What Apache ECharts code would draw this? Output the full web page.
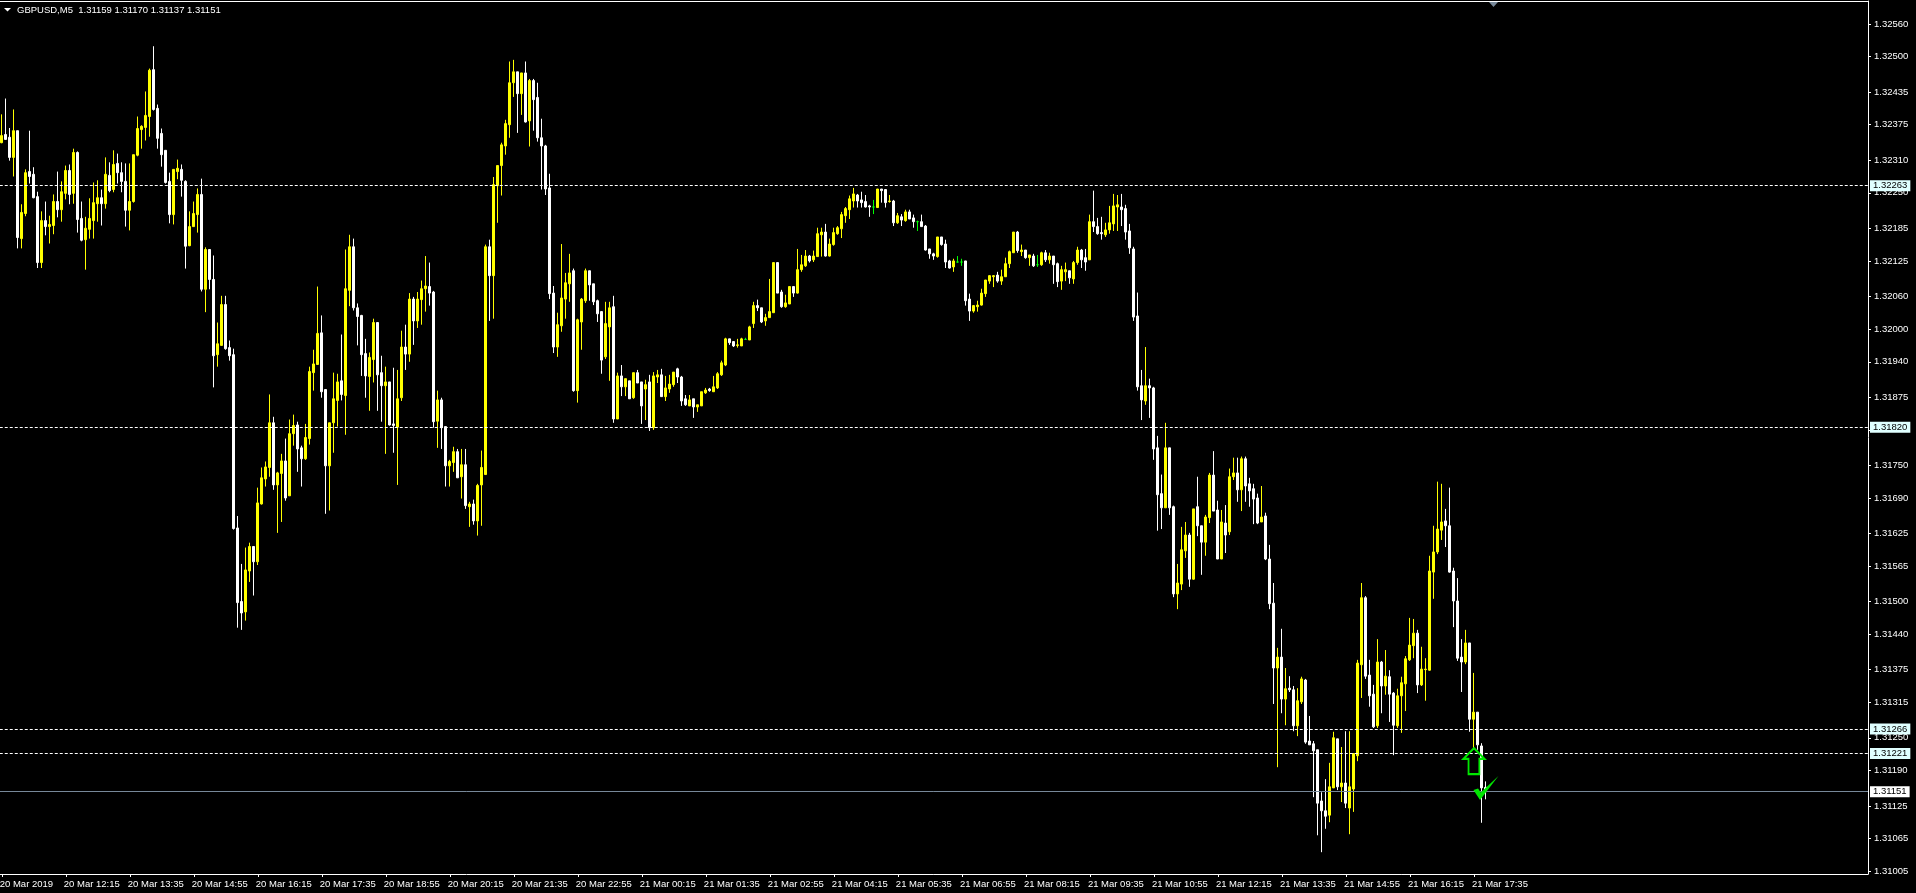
<!DOCTYPE html>
<html><head><meta charset="utf-8">
<style>html,body{margin:0;padding:0;background:#000;width:1916px;height:893px;overflow:hidden}#c{width:1916px;height:893px}</style>
<script src="https://cdn.jsdelivr.net/npm/echarts@6/dist/echarts.min.js"></script>
</head><body><div id="c"></div>
<script>
// Prices are stored as points (0.00001) above 1.31000
const BASE = 1.31;
const open = [
1342,1357,1352,1315,1364,1166,1212,1289,1284,1243,
1122,1199,1188,1190,1234,1219,1249,1291,1249,1324,
1203,1164,1183,1199,1230,1241,1230,1282,1256,1304,
1287,1271,1218,1234,1319,1366,1370,1390,1476,1405,
1359,1328,1271,1210,1289,1293,1271,1153,1188,1210,
1247,1073,1146,1091,953,970,1045,966,953,635,
500,481,556,601,573,679,725,746,828,714,
735,758,694,808,824,782,762,799,920,935,
993,889,749,828,869,905,878,1071,1151,1039,
1025,955,913,944,1012,920,896,903,826,820,
874,967,954,1055,1015,1054,1074,1078,1068,831,
870,821,749,755,775,729,751,674,679,648,
714,733,1151,1098,1263,1300,1336,1375,1452,1472,
1432,1470,1382,1456,1425,1351,1336,1259,1066,967,
1006,1055,1083,1107,887,1013,1052,1107,1083,1052,
1032,949,1004,1041,835,914,894,905,874,920,
903,890,903,819,912,916,876,890,898,927,
912,872,859,872,857,859,883,890,885,892,
916,934,982,977,970,969,981,980,1010,1043,
1039,1015,1021,1030,1122,1068,1041,1046,1078,1066,
1109,1116,1134,1127,1133,1173,1178,1134,1155,1175,
1184,1208,1219,1235,1246,1237,1234,1226,1224,1223,
1257,1256,1234,1235,1195,1206,1199,1215,1204,1197,
1197,1189,1147,1138,1133,1169,1156,1125,1114,1123,
1123,1125,1055,1033,1041,1044,1065,1088,1096,1099,
1088,1096,1120,1140,1178,1142,1145,1131,1134,1118,
1118,1140,1127,1134,1120,1088,1105,1107,1092,1122,
1145,1131,1127,1197,1188,1177,1173,1182,1193,1224,
1224,1221,1180,1147,1024,896,868,896,892,782,
698,672,782,674,514,532,593,622,541,674,
639,609,654,732,668,578,644,628,729,736,
705,762,716,707,690,646,657,578,497,378,
398,321,341,338,272,316,356,244,239,228,
134,116,108,158,248,160,167,121,156,217,
384,507,365,330,272,389,345,362,332,272,
327,349,393,419,442,347,375,374,554,591,
631,648,639,556,501,398,389,424,284,297,
235,159];
const close = [
1355,1348,1315,1364,1168,1214,1287,1280,1241,1122,
1199,1188,1192,1234,1219,1252,1291,1247,1324,1201,
1163,1185,1203,1232,1241,1230,1284,1254,1302,1287,
1271,1218,1234,1320,1368,1372,1392,1475,1403,1350,
1320,1269,1210,1293,1295,1273,1152,1188,1212,1247,
1073,1146,1091,951,973,1045,964,951,634,498,
479,558,601,573,681,727,747,828,714,736,
758,690,808,823,780,762,801,922,936,992,
885,749,828,872,903,880,1074,1151,1039,1023,
953,914,948,1012,916,896,903,824,823,872,
967,954,1055,1015,1055,1074,1079,1066,830,870,
819,749,757,775,727,751,676,679,648,713,
746,1151,1098,1265,1300,1338,1377,1452,1472,1432,
1470,1380,1456,1421,1351,1336,1257,1065,967,1008,
1057,1085,1103,887,1017,1055,1107,1081,1050,1028,
943,1010,1039,835,914,894,909,872,920,901,
859,898,819,914,916,876,892,899,921,912,
868,861,870,857,861,885,888,887,894,918,
938,982,975,969,971,982,981,1004,1043,1039,
1013,1021,1032,1122,1066,1041,1048,1078,1066,1109,
1118,1134,1125,1134,1175,1178,1134,1156,1177,1186,
1210,1221,1239,1248,1235,1232,1224,1224,1224,1257,
1254,1232,1235,1195,1208,1200,1215,1202,1197,1197,
1188,1145,1138,1134,1169,1155,1123,1112,1125,1123,
1123,1052,1033,1043,1044,1066,1090,1098,1098,1088,
1096,1120,1142,1178,1144,1145,1131,1136,1116,1118,
1140,1127,1134,1118,1087,1109,1109,1094,1122,1145,
1127,1123,1197,1188,1175,1175,1182,1195,1226,1228,
1219,1178,1149,1022,894,870,896,892,780,696,
672,782,672,514,534,595,622,541,670,639,
609,655,732,666,578,646,622,729,736,705,
762,712,703,688,644,655,578,496,378,398,
321,340,338,272,318,358,242,237,226,130,
116,106,160,250,160,167,130,160,221,387,
507,363,327,270,389,345,363,330,273,327,
351,395,420,442,347,376,376,556,591,633,
646,639,554,501,396,389,424,284,297,237,
158,151];
const high = [
1394,1423,1369,1403,1364,1229,1293,1364,1297,1252,
1216,1234,1208,1247,1289,1271,1300,1302,1331,1326,
1234,1206,1240,1269,1273,1256,1315,1306,1328,1322,
1306,1304,1304,1320,1390,1374,1436,1478,1519,1412,
1368,1328,1287,1293,1311,1302,1273,1216,1234,1258,
1276,1150,1146,1135,1012,1061,1061,979,964,657,
569,599,608,601,709,746,757,880,839,738,
771,799,834,843,830,786,826,931,962,1078,
1025,889,828,920,918,990,1146,1173,1166,1047,
1026,982,957,1019,1012,951,931,903,929,925,
997,1008,1066,1059,1068,1089,1134,1122,1070,887,
874,821,760,784,780,780,780,683,687,716,
777,1155,1164,1279,1300,1342,1384,1491,1494,1472,
1470,1491,1459,1459,1452,1386,1338,1285,1079,1030,
1156,1103,1138,1111,1019,1057,1111,1107,1083,1054,
1033,1050,1050,1061,920,934,909,905,920,925,
903,907,916,921,925,927,914,916,921,929,
914,879,879,872,861,885,892,892,914,921,
942,984,982,978,982,984,984,1006,1050,1054,
1039,1028,1092,1122,1122,1072,1063,1078,1078,1147,
1136,1145,1136,1144,1186,1186,1193,1166,1186,1189,
1215,1224,1245,1259,1248,1252,1246,1228,1237,1257,
1257,1256,1246,1237,1213,1211,1219,1219,1210,1199,
1210,1191,1147,1140,1169,1169,1164,1127,1129,1134,
1129,1125,1065,1044,1052,1074,1090,1099,1099,1105,
1109,1131,1144,1178,1180,1155,1145,1136,1138,1136,
1142,1145,1140,1134,1122,1116,1122,1107,1125,1151,
1147,1147,1210,1254,1204,1206,1195,1226,1248,1246,
1248,1228,1193,1151,1067,925,967,909,894,804,
733,828,782,676,569,637,646,626,670,729,
639,659,736,776,685,668,677,744,764,764,
766,766,727,716,698,712,663,604,534,415,
450,378,363,345,341,362,358,290,244,228,
150,174,204,261,248,233,262,262,221,393,
534,510,393,347,431,391,411,374,334,340,
362,400,470,468,448,417,396,584,639,720,
716,670,709,562,543,431,448,424,369,297,
240,170];
const low = [
1341,1348,1309,1280,1148,1148,1207,1267,1240,1112,
1112,1172,1157,1174,1205,1197,1238,1229,1230,1177,
1161,1109,1166,1166,1197,1190,1221,1251,1251,1267,
1251,1188,1181,1232,1317,1331,1346,1353,1401,1331,
1298,1267,1194,1192,1275,1243,1111,1152,1188,1177,
1069,1031,1073,893,931,970,962,942,632,452,
448,465,536,511,567,678,711,729,705,626,
646,685,694,786,738,711,760,788,887,935,
874,661,667,773,821,869,806,1042,1034,970,
914,874,850,902,850,830,771,823,773,714,
868,925,940,971,1002,1008,1032,1043,819,782,
780,711,711,738,727,689,670,637,641,621,
639,733,1015,1019,1195,1245,1320,1351,1426,1360,
1393,1379,1335,1364,1344,1256,1246,1055,956,949,
995,1019,1050,885,865,962,1048,1052,1044,1013,
918,945,905,828,835,877,877,872,872,901,
826,833,813,815,901,876,868,883,894,901,
859,859,859,837,848,859,881,885,885,890,
914,932,971,967,966,969,980,980,1002,1033,
1011,1006,1021,1030,1066,1039,1039,1046,1059,1065,
1105,1114,1122,1123,1133,1133,1133,1133,1153,1173,
1167,1195,1202,1223,1223,1223,1223,1206,1211,1223,
1232,1223,1232,1189,1193,1189,1197,1202,1186,1180,
1188,1144,1129,1127,1131,1153,1112,1111,1105,1122,
1116,1043,1015,1030,1032,1043,1059,1083,1077,1085,
1081,1096,1112,1140,1140,1134,1129,1116,1114,1114,
1116,1123,1120,1083,1077,1072,1088,1083,1083,1118,
1112,1107,1127,1178,1173,1164,1169,1175,1180,1180,
1189,1164,1138,1015,887,833,861,837,760,630,
633,672,659,508,486,521,580,527,540,620,
549,584,644,666,578,578,589,622,723,683,
666,683,674,642,642,646,576,486,312,196,
295,273,334,262,253,312,239,237,141,71,
40,83,95,158,154,132,121,73,114,207,
323,358,307,268,268,295,329,279,218,268,
259,299,391,396,332,345,318,373,505,587,
613,600,553,453,391,334,385,261,228,228,
94,137];
const timeTicks = ['20 Mar 2019','20 Mar 12:15','20 Mar 13:35','20 Mar 14:55','20 Mar 16:15','20 Mar 17:35','20 Mar 18:55','20 Mar 20:15','20 Mar 21:35','20 Mar 22:55','21 Mar 00:15','21 Mar 01:35','21 Mar 02:55','21 Mar 04:15','21 Mar 05:35','21 Mar 06:55','21 Mar 08:15','21 Mar 09:35','21 Mar 10:55','21 Mar 12:15','21 Mar 13:35','21 Mar 14:55','21 Mar 16:15','21 Mar 17:35'];
const priceTicks = [1.32560,1.32500,1.32435,1.32375,1.32310,1.32250,1.32185,1.32125,1.32060,1.32000,1.31940,1.31875,1.31815,1.31750,1.31690,1.31625,1.31565,1.31500,1.31440,1.31375,1.31315,1.31250,1.31190,1.31125,1.31065,1.31005];
const dashedLevels = [1.32263,1.31820,1.31266,1.31221];
const bidLevel = 1.31151;
const headerText = 'GBPUSD,M5  1.31159 1.31170 1.31137 1.31151';
const SLOTS = 467, TICK_EVERY = 16;

const categories = Array.from({length:SLOTS},(_,i)=> i%TICK_EVERY===0 && timeTicks[i/TICK_EVERY] ? timeTicks[i/TICK_EVERY] : '');
const candles = open.map((o,i)=>[o,close[i],low[i],high[i]].map(v=>+(BASE+v/1e5).toFixed(5)));
const isTick = (i)=> i%TICK_EVERY===0 && !!timeTicks[i/TICK_EVERY];
const FONT = '"Liberation Sans",Arial,sans-serif';
const FS = 9.5;
const levelLabel = (bg)=>({show:true,position:'end',distance:2,formatter:(p)=>p.value.toFixed(5),
  color:'#000',backgroundColor:bg,fontFamily:FONT,fontSize:FS,align:'left',padding:[1,3,0,3],lineHeight:10});

const chart = echarts.init(document.getElementById('c'),null,{renderer:'canvas'});
chart.setOption({
  animation:false,
  backgroundColor:'#000',
  title:{text:headerText,left:17,top:5,padding:0,textStyle:{color:'#fff',fontFamily:FONT,fontSize:FS,fontWeight:'normal',lineHeight:11}},
  grid:{left:-0.25,top:1,width:1868.25,height:873,containLabel:false,outerBoundsMode:'none'},
  xAxis:{type:'category',data:categories,boundaryGap:true,
    axisLine:{lineStyle:{color:'#fff',width:1}},
    axisTick:{show:true,alignWithLabel:true,length:3,interval:(i)=>isTick(i),lineStyle:{color:'#fff'}},
    axisLabel:{interval:(i)=>isTick(i),align:'left',margin:5,padding:[0,0,0,-2],color:'#fff',fontFamily:FONT,fontSize:FS},
    splitLine:{show:false}},
  yAxis:{type:'value',position:'right',min:1.31000,max:1.32602,scale:true,
    axisLine:{show:true,onZero:false,lineStyle:{color:'#fff',width:1}},
    axisTick:{show:true,length:3,customValues:priceTicks,lineStyle:{color:'#fff'}},
    axisLabel:{customValues:priceTicks,margin:5,padding:[2,0,0,1],color:'#fff',fontFamily:FONT,fontSize:FS,formatter:(v)=>v.toFixed(5),showMinLabel:true,showMaxLabel:true},
    splitLine:{show:false}},
  graphic:[
    {type:'polygon',silent:true,shape:{points:[[4,8],[11,8],[7.5,11.5]]},style:{fill:'#fff'}},
    {type:'rect',silent:true,shape:{x:0,y:1,width:1869,height:1},style:{fill:'#fff'}},
    {type:'polygon',silent:true,shape:{points:[[1489,2],[1498,2],[1493.5,7]]},style:{fill:'#778899'}}
  ],
  series:[{type:'candlestick',data:candles,barWidth:2.5,large:false,progressive:0,clip:true,
    itemStyle:{color:'#ffff00',color0:'#ffffff',borderColor:'#ffff00',borderColor0:'#ffffff',borderColorDoji:'#00ff00',borderWidth:1},
    emphasis:{disabled:true},
    markLine:{silent:true,symbol:'none',animation:false,precision:5,
      data:[
        ...dashedLevels.map(v=>({yAxis:v,lineStyle:{color:'#fff',type:[3,2],width:1},label:levelLabel('#E0FFFF')})),
        {yAxis:bidLevel,lineStyle:{color:'#778899',type:'solid',width:1},label:levelLabel('#ffffff')}
      ]},
    markPoint:{silent:true,animation:false,label:{show:false},
      data:[
        {coord:[368,1.31207],symbol:'path://M33 0L66 32L50 32L50 78L16 78L16 32L0 32Z',symbolSize:[21,26],itemStyle:{color:'rgba(0,0,0,0)',borderColor:'#00e600',borderWidth:2}},
        {coord:[371,1.31158],symbol:'path://M0 42L14 38L22 50L76 0L20 72Z',symbolSize:[25,24],itemStyle:{color:'#00e600'}}
      ]}
  }]
});
</script></body></html>
